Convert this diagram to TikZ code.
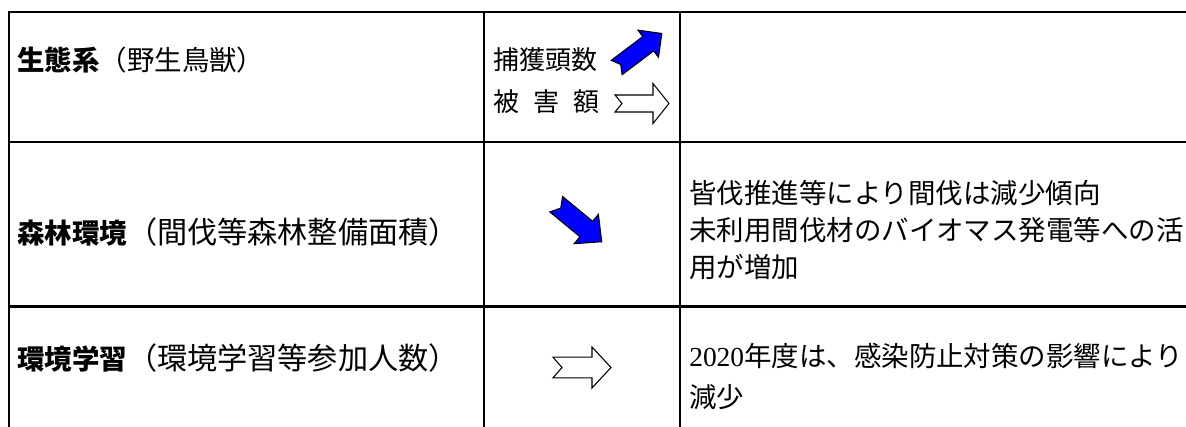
\documentclass[tikz,border=0pt]{standalone}
\usepackage{fontspec}
\setmainfont{Noto Sans CJK JP}
\newfontfamily\digitfont{Liberation Serif}
\definecolor{arrowblue}{RGB}{0,0,255}
\newcommand\NArrow[6]{% #1 style, #2 length, #3 half body, #4 half head, #5 head length, #6 notch
  \draw[#1] (0,-#3) -- ({#2-#5},-#3) -- ({#2-#5},-#4) -- (#2,0) -- ({#2-#5},#4)
    -- ({#2-#5},#3) -- (0,#3) -- (#6,0) -- cycle;}
\tikzset{
  grid line/.style={line width=1.6pt, black},
  cell text/.style={anchor=west, inner sep=0pt, font=\fontsize{20.6pt}{24pt}\selectfont},
  item text/.style={anchor=west, inner sep=0pt, font=\fontsize{19.5pt}{23pt}\selectfont},
  blue arrow/.style={fill=arrowblue, draw=black, line width=0.8pt, line join=miter},
  white arrow/.style={fill=white, draw=black, line width=0.8pt, line join=miter},
}
\newcommand\bigparen[1]{{\fontsize{22.6pt}{26pt}\selectfont #1}}
\begin{document}
\begin{tikzpicture}[x=0.75pt, y=-0.75pt]
\useasboundingbox (0,0) rectangle (1186,426);
% grid
\draw[grid line] (9,12) -- (1190,12);
\draw[grid line] (9,142) -- (1190,142);
\draw[grid line] (9,306.5) -- (1190,306.5);
\draw[grid line] (9,11.2) -- (9,430);
\draw[grid line] (484,11.2) -- (484,430);
\draw[grid line] (680,11.2) -- (680,430);
% column 1
\node[cell text] (r1c1) at (17,60) {\textbf{生態系}（野生鳥獣）};
\node[cell text] (r2c1) at (17,231.7) {\textbf{森林環境}\bigparen{（間伐等森林整備面積）}};
\node[cell text] (r3c1) at (17,358.3) {\textbf{環境学習}\bigparen{（環境学習等参加人数）}};
% column 2
\node[item text] (cap) at (493,60) {捕獲頭数};
\node[item text] (dmg) at (493,102) {被\hspace{0.55em}害\hspace{0.55em}額};
\begin{scope}[shift={(616.7,67.5)}, rotate=37]
  \NArrow{blue arrow}{56.5}{9}{17}{17}{5}
\end{scope}
\begin{scope}[shift={(615,103.5)}]
  \NArrow{white arrow}{54}{8.5}{20}{16}{7}
\end{scope}
\begin{scope}[shift={(556.2,204.2)}, rotate=-39.5]
  \NArrow{blue arrow}{59}{10}{19}{20}{6}
\end{scope}
\begin{scope}[shift={(553,367.5)}]
  \NArrow{white arrow}{58}{10.3}{20.5}{19}{9}
\end{scope}
% column 3
\node[cell text] (r2l1) at (689,193.3) {皆伐推進等により間伐は減少傾向};
\node[cell text] (r2l2) at (689,230) {未利用間伐材のバイオマス発電等への活};
\node[cell text] (r2l3) at (689,266.7) {用が増加};
\node[cell text] (r3l1) at (689,356) {{\digitfont 2020}年度は、感染防止対策の影響により};
\node[cell text] (r3l2) at (689,397) {減少};
\end{tikzpicture}
\end{document}
